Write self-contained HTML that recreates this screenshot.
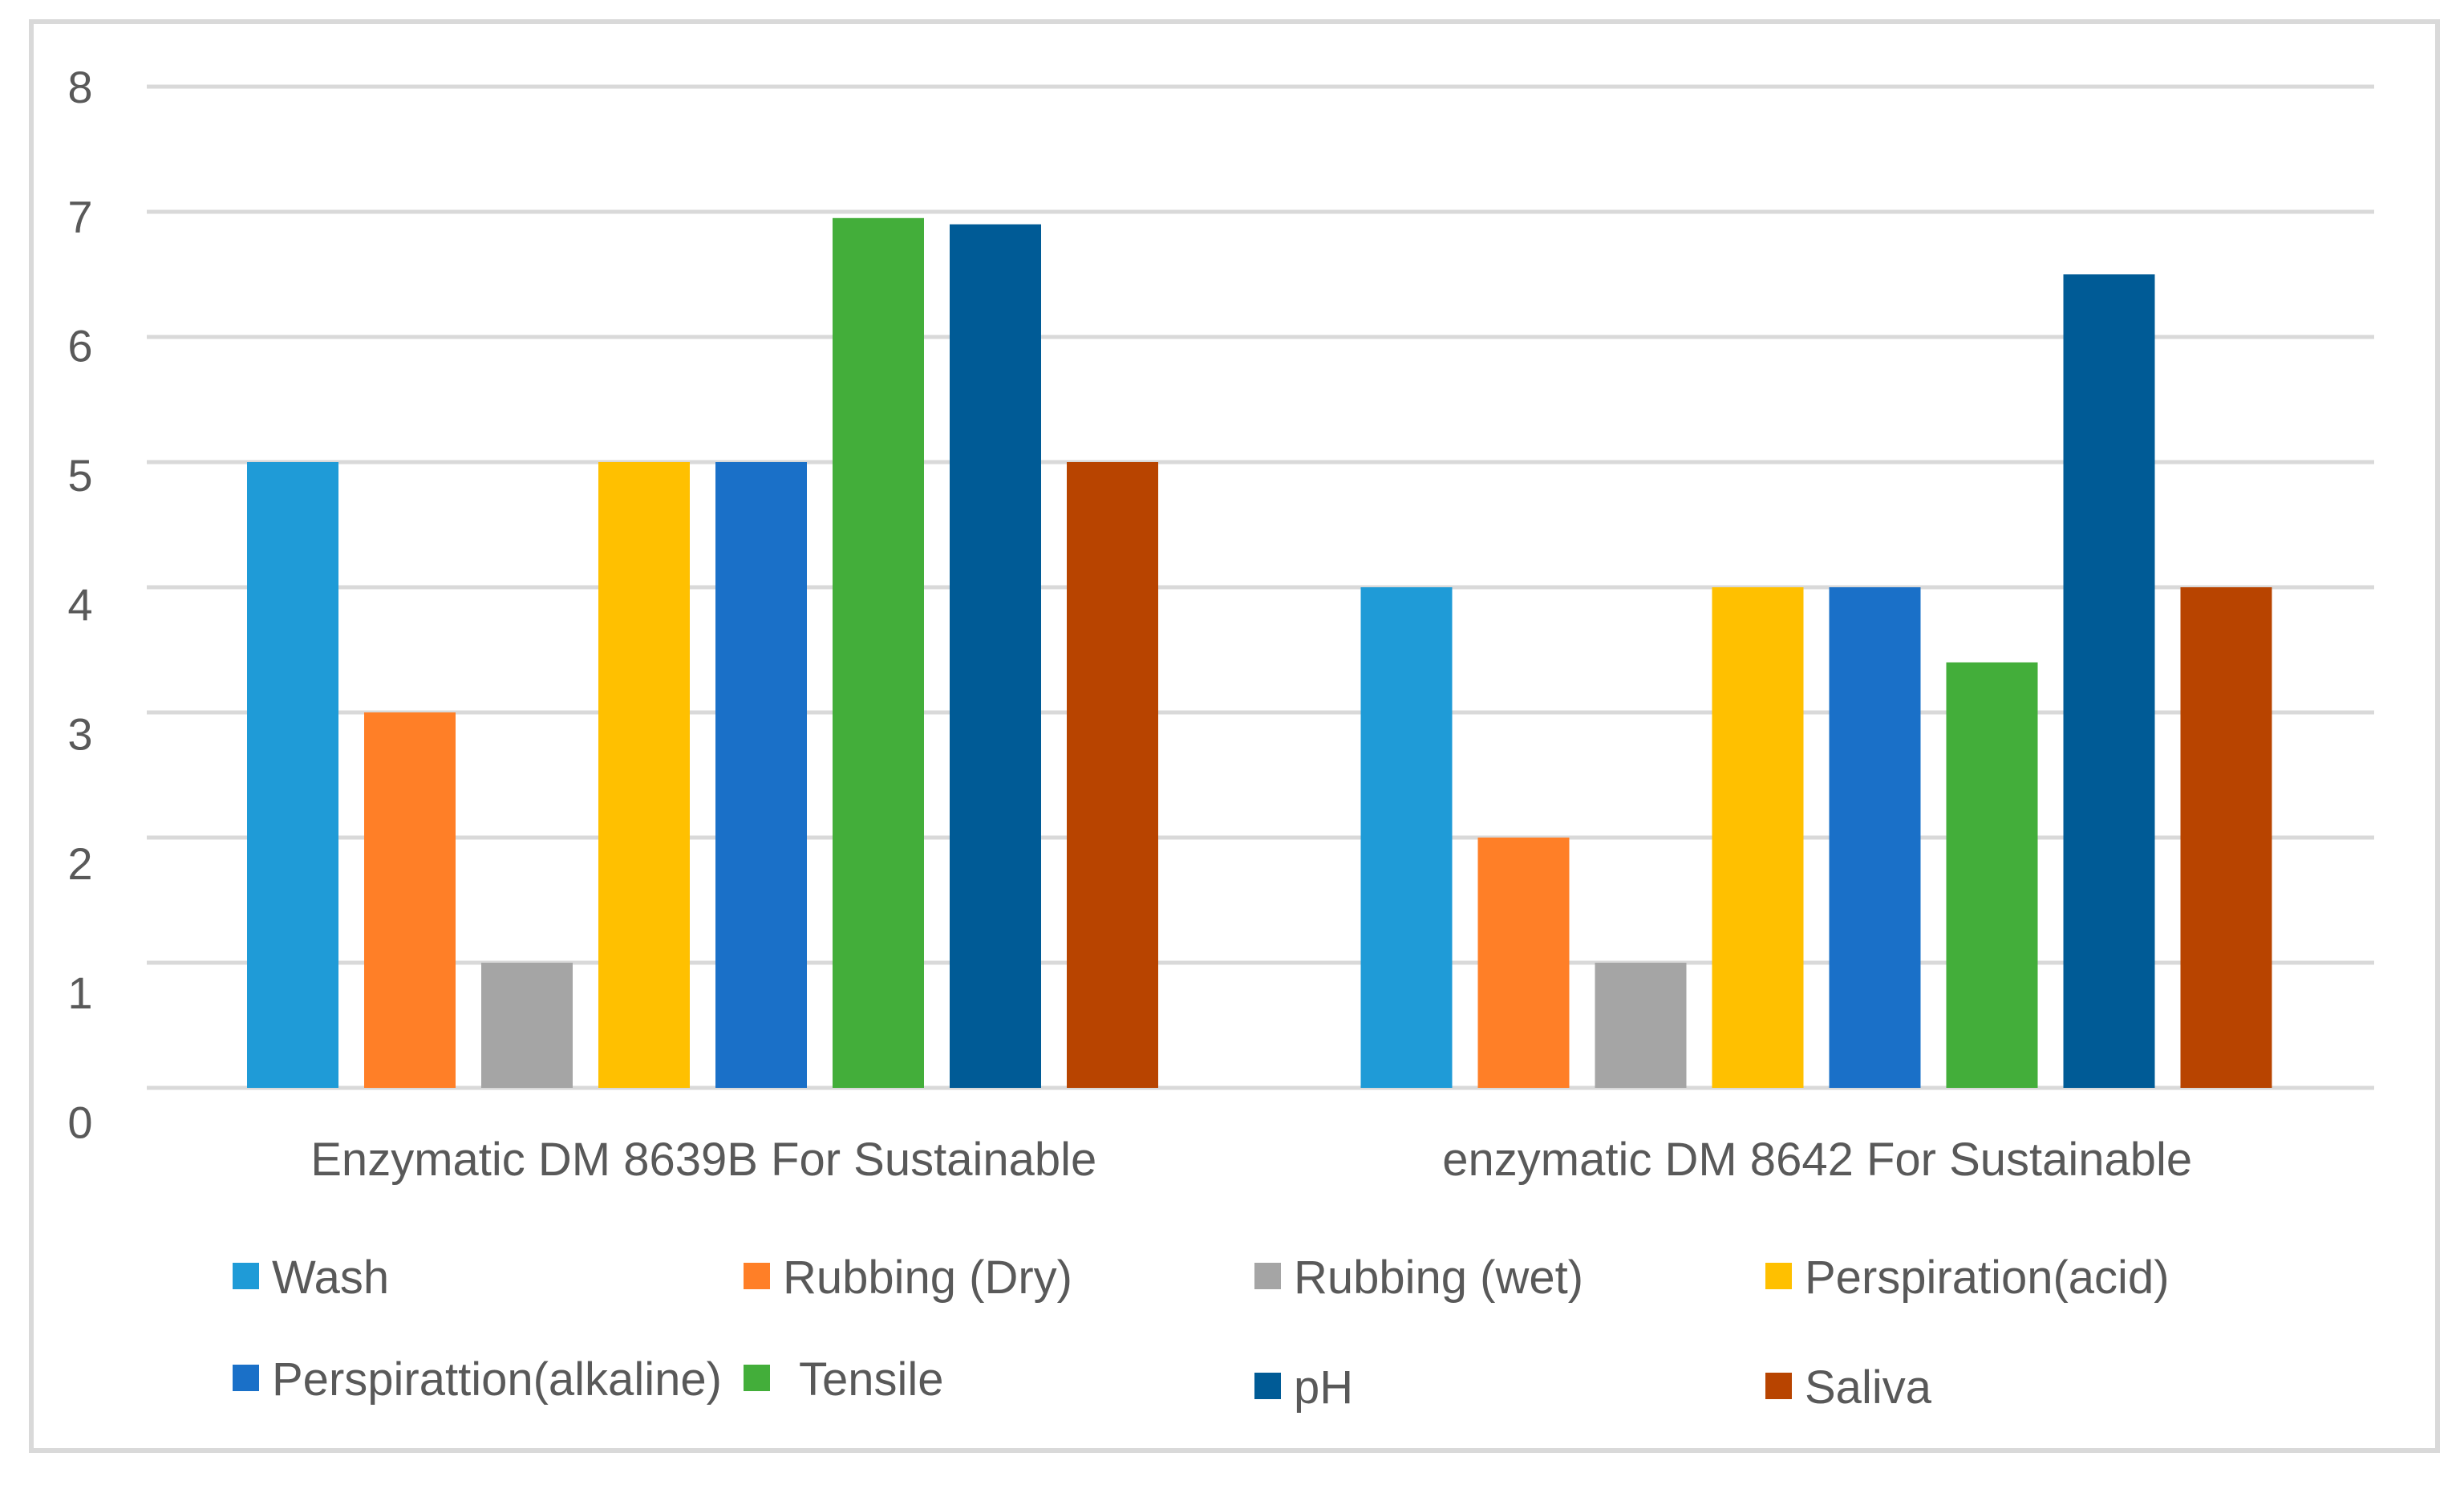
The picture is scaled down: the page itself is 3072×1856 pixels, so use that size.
<!DOCTYPE html>
<html><head><meta charset="utf-8"><style>
html,body{margin:0;padding:0;background:#fff;}
svg{display:block;font-family:"Liberation Sans",sans-serif;}
</style></head><body>
<svg id="chart" width="3072" height="1856" viewBox="0 0 3072 1856" xmlns="http://www.w3.org/2000/svg">
<rect x="39" y="27" width="3000" height="1781" fill="#fff" stroke="#d9d9d9" stroke-width="6"/>
<g id="grid"></g><g id="bars"></g><g id="labels"></g><g id="legend"></g>
</svg>
<script>
const categories = ["Enzymatic DM 8639B For Sustainable", "enzymatic DM 8642 For Sustainable"];
const seriesNames = ["Wash","Rubbing (Dry)","Rubbing (wet)","Perspiration(acid)","Perspirattion(alkaline)","Tensile","pH","Saliva"];
const washVals = [5, 4];
const rubDryVals = [3, 2];
const rubWetVals = [1, 1];
const acidVals = [5, 4];
const alkVals = [5, 4];
const tensileVals = [6.95, 3.4];
const phVals = [6.9, 6.5];
const salivaVals = [5, 4];
const yTicks = [0,1,2,3,4,5,6,7,8];

const series = [washVals, rubDryVals, rubWetVals, acidVals, alkVals, tensileVals, phVals, salivaVals];
const colors = ["#1f9bd7","#ff7f27","#a5a5a5","#ffc000","#1a70c8","#43ae3a","#005b96","#b84400"];
const NS = "http://www.w3.org/2000/svg";
const x0 = 183, x1 = 2960, yTop = 108, yBot = 1356, yMax = 8;
const y = v => yBot - (v / yMax) * (yBot - yTop);
const labelY = t => yTop + (yMax - t) * 161.3;
const catW = (x1 - x0) / categories.length;
const barW = 114, pitch = 146, inner = 125;
function mk(tag, attrs, parent){const e=document.createElementNS(NS,tag);for(const k in attrs)e.setAttribute(k,attrs[k]);parent.appendChild(e);return e;}
const grid = document.getElementById('grid'), bars = document.getElementById('bars'), labels = document.getElementById('labels'), legend = document.getElementById('legend');
yTicks.forEach(t=>{
  const l = mk('line',{x1:x0,x2:x1,y1:y(t),y2:y(t),stroke:'#d9d9d9','stroke-width':5},grid);
  
  
  const tx = mk('text',{x:100,y:labelY(t)+20,'text-anchor':'middle','font-size':56,fill:'#595959'},labels);
  tx.textContent = t;
  
  
});
categories.forEach((c,ci)=>{
  series.forEach((s,si)=>{
    const bx = x0 + ci*catW + inner + si*pitch;
    const r = mk('rect',{x:bx,y:y(s[ci]),width:barW,height:yBot-y(s[ci]),fill:colors[si]},bars);
    
    
  });
  const tx = mk('text',{x:x0+ci*catW+catW/2,y:1465,'text-anchor':'middle','font-size':58,fill:'#595959'},labels);
  tx.textContent = c;
  
  
});
const legCols = [290, 927, 1564, 2201];
const legRows = [1592, 1719];
seriesNames.forEach((n,i)=>{
  const cx = legCols[i%4], cy = legRows[Math.floor(i/4)] + (i>=6 ? 10 : 0);
  const sq = mk('rect',{x:cx,y:cy-18,width:33,height:33,fill:colors[i]},legend);
  
  
  const tx = mk('text',{x:cx+49+(i===5?20:0),y:cy+20,'font-size':58,fill:'#595959'},legend);
  tx.textContent = n;
  
  
});
</script>
</body></html>
